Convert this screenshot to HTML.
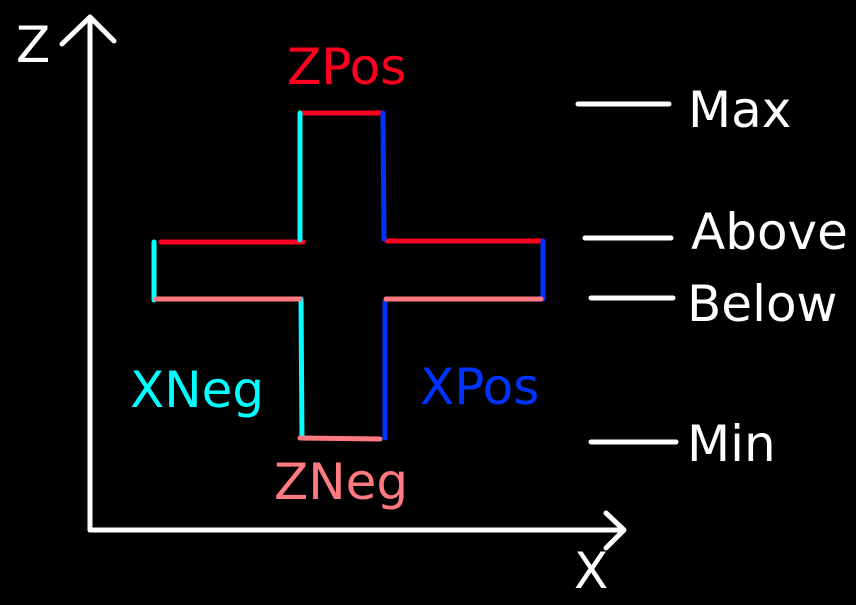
<!DOCTYPE html>
<html><head><meta charset="utf-8"><style>
html,body{margin:0;padding:0;background:#000;width:856px;height:605px;overflow:hidden}
svg text{font-family:"DejaVu Sans","Liberation Sans",sans-serif}
</style></head><body>
<svg width="856" height="605" viewBox="0 0 856 605">
<rect width="856" height="605" fill="#000"/>
<g stroke="#fff" stroke-width="5" fill="none" stroke-linecap="round" stroke-linejoin="round">
  <line x1="90" y1="18" x2="90" y2="530"/>
  <polyline points="62,44 90,17 114,41"/>
  <line x1="90" y1="530" x2="623" y2="530"/>
  <polyline points="606,513 624,530 606,548"/>
  <line x1="578" y1="104" x2="669" y2="104"/>
  <line x1="585" y1="238" x2="671" y2="238"/>
  <line x1="591" y1="298" x2="673" y2="298"/>
  <line x1="591" y1="442" x2="676" y2="442"/>
</g>
<g stroke-width="5" fill="none" stroke-linecap="round">
  <g stroke="#ff0020">
    <line x1="303" y1="113" x2="382" y2="113"/>
    <line x1="161" y1="242" x2="303" y2="242"/>
    <line x1="387" y1="241" x2="541" y2="241"/>
  </g>
  <g stroke="#00ffff">
    <line x1="300" y1="113" x2="300" y2="240"/>
    <line x1="154" y1="242" x2="154" y2="300"/>
    <line x1="301" y1="299" x2="302" y2="437"/>
  </g>
  <g stroke="#0033ff">
    <line x1="383" y1="113" x2="384" y2="239"/>
    <line x1="543" y1="241" x2="543" y2="299"/>
    <line x1="385" y1="302" x2="385" y2="438"/>
  </g>
  <g stroke="#ff7a80">
    <line x1="156" y1="299" x2="300" y2="299"/>
    <line x1="386" y1="299" x2="541" y2="299"/>
    <line x1="300" y1="438" x2="380" y2="439"/>
  </g>
</g>
<g font-size="50">
  <text x="16" y="62" fill="#fff">Z</text>
  <text x="574" y="588" fill="#fff">X</text>
  <text x="287" y="84" fill="#ff0020">ZPos</text>
  <text x="130" y="407" fill="#00ffff">XNeg</text>
  <text x="420" y="404" fill="#0033ff">XPos</text>
  <text x="274" y="499" fill="#ff7a80">ZNeg</text>
  <text x="688" y="127" fill="#fff">Max</text>
  <text x="691" y="249" fill="#fff">Above</text>
  <text x="687" y="321" fill="#fff">Below</text>
  <text x="687" y="461" fill="#fff">Min</text>
</g>
</svg>
</body></html>
